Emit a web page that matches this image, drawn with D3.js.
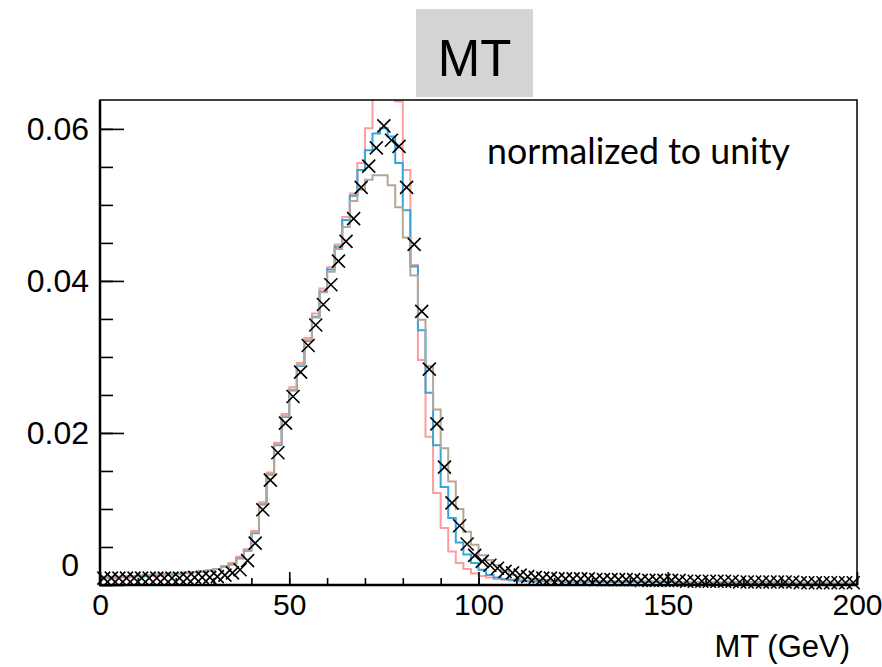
<!DOCTYPE html>
<html>
<head>
<meta charset="utf-8">
<script src="https://cdn.jsdelivr.net/npm/d3@7"></script>
<style>
  body { margin: 0; background: #fff; }
  .axis text { font-family: "Liberation Sans", Arial, sans-serif; fill: #000; }
  .y-axis text { font-size: 32px; }
  .x-axis text { font-size: 30px; }
  .axis path { display: none; }
  .axis line { stroke: #000; stroke-width: 1.6; }
</style>
</head>
<body>
<div class="chart"></div>
<script>
// bins are 2 GeV wide, 0..200
const binLow = d3.range(0, 200, 2);

// black crosses
const dataPts = [
  0.0009,0.0009,0.0009,0.0009,0.0009,0.0009,0.0009,0.0009,0.0009,0.0009,
  0.0009,0.0009,0.0010,0.0010,0.0010,0.0011,0.0013,0.0016,0.0020,0.0032,
  0.0055,0.0099,0.0138,0.0174,0.0213,0.0248,0.0280,0.0315,0.0342,0.0369,
  0.0395,0.0426,0.0452,0.0482,0.0523,0.0551,0.0575,0.0604,0.0585,0.0577,
  0.0523,0.0448,0.0360,0.0284,0.0212,0.0155,0.0108,0.0078,0.0054,0.0039,
  0.0031,0.0026,0.0022,0.0018,0.0016,0.0013,0.0011,0.0010,0.0009,0.0009,
  0.0008,0.0008,0.0008,0.0008,0.0008,0.0007,0.0007,0.0007,0.0007,0.0007,
  0.0007,0.0006,0.0006,0.0006,0.0006,0.0006,0.0006,0.0005,0.0005,0.0005,
  0.0005,0.0005,0.0005,0.0005,0.0004,0.0004,0.0004,0.0004,0.0004,0.0004,
  0.0004,0.0004,0.0003,0.0003,0.0003,0.0003,0.0003,0.0003,0.0003,0.0003
];

// blue histogram
const blueHist = [
  0.0010,0.0010,0.0011,0.0011,0.0012,0.0012,0.0013,0.0013,0.0014,0.0014,
  0.0015,0.0016,0.0017,0.0018,0.0019,0.0021,0.0024,0.0027,0.0035,0.0045,
  0.0068,0.0106,0.0145,0.0184,0.0221,0.0256,0.0288,0.0321,0.0353,0.0386,
  0.0415,0.0445,0.0480,0.0512,0.0546,0.0572,0.0594,0.0601,0.0590,0.0555,
  0.0493,0.0419,0.0335,0.0253,0.0184,0.0129,0.0088,0.0056,0.0040,0.0029,
  0.0020,0.0013,0.0010,0.0008,0.0007,0.0006,0.0005,0.0005,0.0005,0.0005,
  0.0005,0.0004,0.0004,0.0004,0.0004,0.0004,0.0004,0.0004,0.0004,0.0004,
  0.0004,0.0004,0.0004,0.0004,0.0004,0.0004,0.0003,0.0003,0.0003,0.0003,
  0.0003,0.0003,0.0003,0.0003,0.0003,0.0003,0.0003,0.0003,0.0003,0.0003,
  0.0003,0.0002,0.0002,0.0002,0.0002,0.0002,0.0002,0.0002,0.0002,0.0002
];

// pink histogram (goes off the top at the peak)
const pinkHist = [
  0.0009,0.0009,0.0010,0.0010,0.0011,0.0011,0.0012,0.0012,0.0013,0.0013,
  0.0014,0.0015,0.0016,0.0017,0.0019,0.0021,0.0025,0.0029,0.0037,0.0047,
  0.0071,0.0109,0.0148,0.0187,0.0225,0.0260,0.0292,0.0325,0.0357,0.0390,
  0.0418,0.0448,0.0484,0.0515,0.0555,0.0601,0.0660,0.0675,0.0660,0.0636,
  0.0546,0.0421,0.0296,0.0195,0.0121,0.0075,0.0044,0.0029,0.0021,0.0015,
  0.0012,0.0010,0.0008,0.0007,0.0006,0.0005,0.0005,0.0005,0.0005,0.0005,
  0.0005,0.0004,0.0004,0.0004,0.0004,0.0004,0.0004,0.0004,0.0004,0.0004,
  0.0004,0.0004,0.0004,0.0004,0.0004,0.0004,0.0003,0.0003,0.0003,0.0003,
  0.0003,0.0003,0.0003,0.0003,0.0003,0.0003,0.0003,0.0003,0.0003,0.0003,
  0.0003,0.0002,0.0002,0.0002,0.0002,0.0002,0.0002,0.0002,0.0002,0.0002
];

// tan histogram
const tanHist = [
  0.0011,0.0011,0.0011,0.0012,0.0012,0.0013,0.0013,0.0014,0.0014,0.0015,
  0.0015,0.0016,0.0017,0.0018,0.0019,0.0021,0.0024,0.0028,0.0036,0.0046,
  0.0069,0.0107,0.0146,0.0185,0.0222,0.0257,0.0289,0.0322,0.0352,0.0385,
  0.0412,0.0442,0.0471,0.0505,0.0520,0.0533,0.0539,0.0539,0.0526,0.0497,
  0.0457,0.0407,0.0349,0.0288,0.0231,0.0180,0.0136,0.0100,0.0070,0.0053,
  0.0039,0.0033,0.0026,0.0018,0.0013,0.0010,0.0009,0.0008,0.0007,0.0006,
  0.0006,0.0005,0.0005,0.0005,0.0005,0.0005,0.0005,0.0005,0.0005,0.0005,
  0.0005,0.0005,0.0005,0.0005,0.0005,0.0005,0.0004,0.0004,0.0004,0.0004,
  0.0004,0.0004,0.0004,0.0004,0.0004,0.0004,0.0004,0.0004,0.0004,0.0004,
  0.0004,0.0003,0.0003,0.0003,0.0003,0.0003,0.0003,0.0003,0.0003,0.0003
];

const xTicks = [0, 50, 100, 150, 200];
const xTickLabels = ["0", "50", "100", "150", "200"];
const yTicks = [0, 0.02, 0.04, 0.06];
const yTickLabels = ["0", "0.02", "0.04", "0.06"];

const width = 882, height = 667;
const frame = {left: 100, right: 857, top: 100, bottom: 585};

const svg = d3.select('.chart').append('svg')
    .attr('width', width)
    .attr('height', height);

const xScale = d3.scaleLinear()
    .domain([0, 200])
    .range([frame.left, frame.right]);

const yScale = d3.scaleLinear()
    .domain([0, 0.0638])
    .range([frame.bottom, frame.top]);

svg.append('clipPath')
    .attr('id', 'frameClip')
    .append('rect')
    .attr('x', frame.left)
    .attr('y', frame.top)
    .attr('width', frame.right - frame.left)
    .attr('height', frame.bottom - frame.top);

// title box
svg.append('rect')
    .attr('x', 416).attr('y', 9)
    .attr('width', 117).attr('height', 88)
    .attr('fill', '#d4d4d4');
svg.append('text')
    .attr('x', 474.5).attr('y', 76)
    .attr('text-anchor', 'middle')
    .style('font-family', '"Liberation Sans", Arial, sans-serif')
    .style('font-size', '51px')
    .text('MT');

// step outlines
const stepLine = d3.line()
    .x(d => xScale(d[0]))
    .y(d => yScale(d[1]))
    .curve(d3.curveStepAfter);

function histPoints(vals) {
    const pts = binLow.map((b, i) => [b, vals[i]]);
    pts.push([200, vals[vals.length - 1]]);
    return pts;
}

const series = [
    {vals: pinkHist, color: '#ff9c9c'},
    {vals: blueHist, color: '#35a7da'},
    {vals: tanHist,  color: '#b3a797'}
];

svg.append('g')
    .attr('clip-path', 'url(#frameClip)')
    .selectAll('path')
    .data(series)
    .enter()
    .append('path')
    .attr('d', d => stepLine(histPoints(d.vals)))
    .attr('fill', 'none')
    .attr('stroke', d => d.color)
    .attr('stroke-width', 2);

// crosses
const s = 6.5;
svg.append('g')
    .selectAll('path')
    .data(dataPts)
    .enter()
    .append('path')
    .attr('d', (d, i) => {
        const cx = xScale(binLow[i] + 1), cy = yScale(d);
        return `M${cx - s},${cy - s}L${cx + s},${cy + s}M${cx - s},${cy + s}L${cx + s},${cy - s}`;
    })
    .attr('stroke', '#000')
    .attr('stroke-width', 1.6)
    .attr('fill', 'none');

// frame
svg.append('rect')
    .attr('x', frame.left).attr('y', frame.top)
    .attr('width', frame.right - frame.left)
    .attr('height', frame.bottom - frame.top)
    .attr('fill', 'none')
    .attr('stroke', '#000')
    .attr('stroke-width', 1.5);

// y axis: minor then major
svg.append('g')
    .attr('class', 'axis')
    .attr('transform', `translate(${frame.left},0)`)
    .call(d3.axisLeft(yScale).tickValues(d3.range(0, 0.0636, 0.005)).tickSize(-13).tickFormat(''));

const yAx = svg.append('g')
    .attr('class', 'axis y-axis')
    .attr('transform', `translate(${frame.left},0)`)
    .call(d3.axisLeft(yScale).tickValues(yTicks).tickSize(-24).tickPadding(11)
        .tickFormat((d, i) => yTickLabels[i]));
// ROOT lifts the zero label
yAx.selectAll('.tick text').filter(d => d === 0)
    .attr('x', -21).attr('y', -20);

// x axis
svg.append('g')
    .attr('class', 'axis')
    .attr('transform', `translate(0,${frame.bottom})`)
    .call(d3.axisBottom(xScale).tickValues(d3.range(0, 201, 10)).tickSize(-7).tickFormat(''));

svg.append('g')
    .attr('class', 'axis x-axis')
    .attr('transform', `translate(0,${frame.bottom})`)
    .call(d3.axisBottom(xScale).tickValues(xTicks).tickSize(-13).tickPadding(9)
        .tickFormat((d, i) => xTickLabels[i]));

// thicker axis lines
svg.append('line')
    .attr('x1', frame.left).attr('x2', frame.left)
    .attr('y1', frame.top).attr('y2', frame.bottom + 1)
    .attr('stroke', '#000').attr('stroke-width', 2.5);
svg.append('line')
    .attr('x1', frame.left - 1).attr('x2', frame.right)
    .attr('y1', frame.bottom).attr('y2', frame.bottom)
    .attr('stroke', '#000').attr('stroke-width', 2.5);

svg.append('text')
    .attr('x', 850).attr('y', 657)
    .attr('text-anchor', 'end')
    .style('font-family', '"Liberation Sans", Arial, sans-serif')
    .style('font-size', '31px')
    .text('MT (GeV)');

const note = svg.append('text')
    .attr('x', 487).attr('y', 164)
    .style('font-family', 'Lato, "Open Sans", sans-serif')
    .style('font-size', '28px')
    .text('normalized to unity');
const w = note.node().getComputedTextLength();
note.style('font-size', (28 * 303 / w) + 'px');
</script>
</body>
</html>
